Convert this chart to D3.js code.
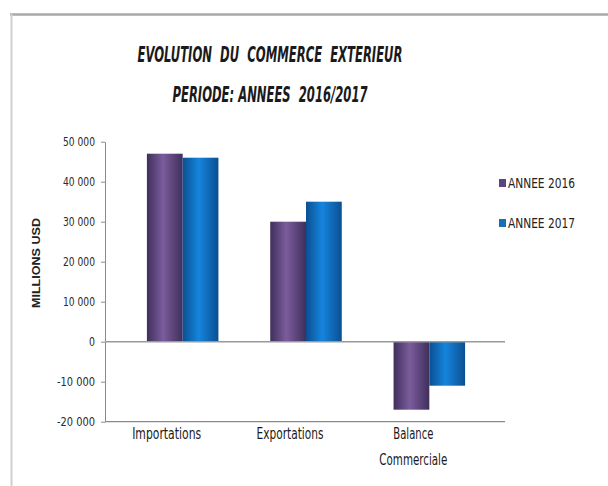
<!DOCTYPE html>
<html>
<head>
<meta charset="utf-8">
<script src="https://cdn.jsdelivr.net/npm/d3@7"></script>
<style>
  body { margin: 0; background: #fff; }
  text { font-family: "Liberation Sans Narrow", "DejaVu Sans Condensed", sans-serif; fill: #222; white-space: pre; }
</style>
</head>
<body>
<div id="chart"></div>
<script>
// data
var categories = ["Importations", "Exportations", "Balance Commerciale"];
var years = ["ANNEE 2016", "ANNEE 2017"];
var values2016 = [47000, 30000, -17000];
var values2017 = [46000, 35000, -11000];
var yTicks = [-20000, -10000, 0, 10000, 20000, 30000, 40000, 50000];

var W = 608, H = 486;
var svg = d3.select("#chart").append("svg")
  .attr("width", W).attr("height", H);

// gradients for the bars
var defs = svg.append("defs");
function grad(id, edge, mid) {
  var g = defs.append("linearGradient").attr("id", id)
    .attr("x1", "0%").attr("x2", "100%").attr("y1", "0%").attr("y2", "0%");
  g.append("stop").attr("offset", "0%").attr("stop-color", edge);
  g.append("stop").attr("offset", "45%").attr("stop-color", mid);
  g.append("stop").attr("offset", "100%").attr("stop-color", edge);
}
grad("g2016", "#3f2f5c", "#7b5c9c");
grad("g2017", "#0b4f92", "#1585dc");

// frame
svg.append("line").attr("x1", 10).attr("x2", W).attr("y1", 14.5).attr("y2", 14.5)
  .attr("stroke", "#a8a8a8").attr("stroke-width", 2.5);
svg.append("line").attr("x1", 11.5).attr("x2", 11.5).attr("y1", 14).attr("y2", H)
  .attr("stroke", "#d0d0d0").attr("stroke-width", 2);

// title
svg.append("text").attr("x", 270).attr("y", 62)
  .attr("text-anchor", "middle")
  .attr("textLength", 265).attr("lengthAdjust", "spacingAndGlyphs")
  .style("font-size", "22px").style("font-style", "italic")
  .style("font-weight", "bold").style("fill", "#1a1a1a")
  .text("EVOLUTION  DU  COMMERCE  EXTERIEUR");
svg.append("text").attr("x", 270).attr("y", 102)
  .attr("text-anchor", "middle")
  .attr("textLength", 195).attr("lengthAdjust", "spacingAndGlyphs")
  .style("font-size", "22px").style("font-style", "italic")
  .style("font-weight", "bold").style("fill", "#1a1a1a")
  .text("PERIODE: ANNEES  2016/2017");

// scales
var y = d3.scaleLinear().domain([-20000, 50000]).range([421.7, 141.7]);
var x = d3.scaleBand().domain(categories).range([105, 475]);
var plotRight = 505;
var barW = x.bandwidth() * 0.29;
var barShift = 16;

var fmt = function (d) { return (d < 0 ? "-" : "") + d3.format(",")(Math.abs(d)).replace(/,/g, " "); };

// y axis
var yAxis = svg.append("g")
  .attr("transform", "translate(105,0)")
  .call(d3.axisLeft(y).tickValues(yTicks).tickSize(4).tickSizeOuter(0).tickFormat(fmt));
yAxis.select(".domain").attr("stroke", "#8a8a8a");
yAxis.selectAll(".tick line").attr("stroke", "#8a8a8a");
yAxis.selectAll(".tick text")
  .attr("x", -10)
  .attr("textLength", function (d) { return d === 0 ? 6 : (d < 0 ? 38 : 32); })
  .attr("lengthAdjust", "spacingAndGlyphs")
  .style("font-size", "12px").style("fill", "#2a2a2a")
  .style("font-family", "'Liberation Sans Narrow', 'DejaVu Sans Condensed', sans-serif");

// bottom axis line
svg.append("line").attr("x1", 105).attr("x2", plotRight)
  .attr("y1", y(-20000)).attr("y2", y(-20000))
  .attr("stroke", "#8a8a8a").attr("stroke-width", 1.2);

// y label
svg.append("text")
  .attr("transform", "translate(40," + 263 + ") rotate(-90)")
  .attr("text-anchor", "middle")
  .attr("textLength", 90).attr("lengthAdjust", "spacingAndGlyphs")
  .style("font-size", "11px").style("font-weight", "bold")
  .style("font-family", "'Liberation Sans', Arial, sans-serif")
  .text("MILLIONS USD");

// bars
var series = [
  { name: years[0], values: values2016, fill: "url(#g2016)" },
  { name: years[1], values: values2017, fill: "url(#g2017)" }
];
series.forEach(function (s, si) {
  svg.append("g").selectAll("rect")
    .data(s.values)
    .join("rect")
    .attr("x", function (d, i) { return x(categories[i]) + x.bandwidth() / 2 + barShift - barW + si * barW; })
    .attr("width", barW)
    .attr("y", function (d) { return y(Math.max(0, d)); })
    .attr("height", function (d) { return Math.abs(y(d) - y(0)); })
    .attr("fill", s.fill);
});

// zero line
svg.append("line").attr("x1", 105).attr("x2", plotRight)
  .attr("y1", y(0)).attr("y2", y(0))
  .attr("stroke", "#9a9a9a").attr("stroke-width", 1.5);

// category labels
var labelLen = { "Importations": 69, "Exportations": 67, "Balance": 40, "Commerciale": 68 };
categories.forEach(function (c) {
  var parts = c === "Balance Commerciale" ? ["Balance", "Commerciale"] : [c];
  parts.forEach(function (p, k) {
    svg.append("text")
      .attr("x", x(c) + x.bandwidth() / 2)
      .attr("y", 439 + k * 26)
      .attr("text-anchor", "middle")
      .attr("textLength", labelLen[p]).attr("lengthAdjust", "spacingAndGlyphs")
      .style("font-size", "15px").style("fill", "#1a1a1a")
      .text(p);
  });
});

// legend
var legend = svg.append("g");
series.forEach(function (s, i) {
  var ly = 183 + i * 40;
  legend.append("rect").attr("x", 499).attr("y", ly - 4).attr("width", 7).attr("height", 8)
    .attr("fill", i === 0 ? "#5a4580" : "#1570b8");
  legend.append("text").attr("x", 508).attr("y", ly + 5)
    .attr("textLength", 67).attr("lengthAdjust", "spacingAndGlyphs")
    .style("font-size", "14px")
    .text(s.name);
});
</script>
</body>
</html>
